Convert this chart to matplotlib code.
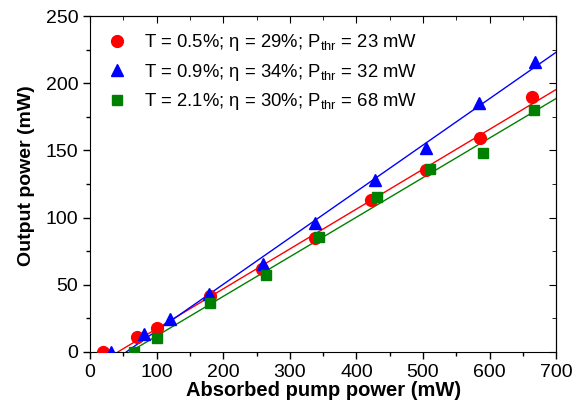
import numpy as np
import matplotlib
matplotlib.use("Agg")
import matplotlib.pyplot as plt
from matplotlib.ticker import MultipleLocator

plt.rcParams['font.family'] = ['Liberation Sans', 'DejaVu Sans']
plt.rcParams['mathtext.fontset'] = 'custom'
plt.rcParams['mathtext.rm'] = 'Liberation Sans'

red_x = [20, 70, 100, 180, 258, 338, 422, 505, 586, 664]
red_y = [0, 11, 18, 41.5, 62, 85, 113, 135.5, 159, 190]
blue_x = [31, 81, 120, 179, 260, 338, 428, 505, 584, 668]
blue_y = [0, 13.5, 24.5, 43, 65.5, 96, 128, 152, 185, 216]
green_x = [66, 100, 180, 264, 343, 431, 510, 590, 667]
green_y = [0, 10, 36, 57, 85.5, 115.5, 136, 148, 180]

labels = ['T = 0.5%; η = 29%; P$_{\\mathregular{thr}}$ = 23 mW',
          'T = 0.9%; η = 34%; P$_{\\mathregular{thr}}$ = 32 mW',
          'T = 2.1%; η = 30%; P$_{\\mathregular{thr}}$ = 68 mW']
colors = ['#ff0000', '#0000ff', '#008000']
markers = ['o', '^', 's']

fig = plt.figure(figsize=(5.74, 4.11), dpi=100)
ax = fig.add_axes([0.157, 0.144, 0.812, 0.817])

series = [(red_x, red_y), (blue_x, blue_y), (green_x, green_y)]
for (xs, ys), c, m, lab in zip(series, colors, markers, labels):
    xs = np.array(xs); ys = np.array(ys)
    mask = ys > 0
    k, b = np.polyfit(xs[mask], ys[mask], 1)
    x0 = -b / k
    xl = np.array([x0, 700])
    ax.plot(xl, k * xl + b, color=c, lw=1.0, zorder=2)
    ms = 8.5 if m == 'o' else (8.5 if m == '^' else 6.8)
    ax.plot(xs, ys, linestyle='none', marker=m, color=c, ms=ms, label=lab, zorder=3)

ax.set_xlim(0, 700)
ax.set_ylim(0, 250)
ax.xaxis.set_major_locator(MultipleLocator(100))
ax.xaxis.set_minor_locator(MultipleLocator(50))
ax.yaxis.set_major_locator(MultipleLocator(50))
ax.yaxis.set_minor_locator(MultipleLocator(25))
ax.tick_params(which='both', direction='out', labelsize=14, width=1)
ax.tick_params(which='major', length=5)
ax.tick_params(which='minor', length=3)
ax2 = ax.secondary_xaxis('top')
ax2.xaxis.set_major_locator(MultipleLocator(100))
ax2.xaxis.set_minor_locator(MultipleLocator(50))
ax2.tick_params(which='both', direction='in', labeltop=False)
ax2.tick_params(which='major', length=5)
ax2.tick_params(which='minor', length=3)
ax3 = ax.secondary_yaxis('right')
ax3.yaxis.set_major_locator(MultipleLocator(50))
ax3.yaxis.set_minor_locator(MultipleLocator(25))
ax3.tick_params(which='both', direction='in', labelright=False)
ax3.tick_params(which='major', length=5)
ax3.tick_params(which='minor', length=3)

ax.set_xlabel('Absorbed pump power (mW)', fontsize=14.5, fontweight='bold', labelpad=0)
ax.set_ylabel('Output power (mW)', fontsize=14, fontweight='bold')
ax.yaxis.set_label_coords(-0.118, 0.524)

ax.legend(loc='upper left', frameon=False, fontsize=13.3, handletextpad=0.45,
          borderaxespad=0.4, labelspacing=0.45, bbox_to_anchor=(-0.014, 0.995))

fig.savefig('out.png', dpi=100)
